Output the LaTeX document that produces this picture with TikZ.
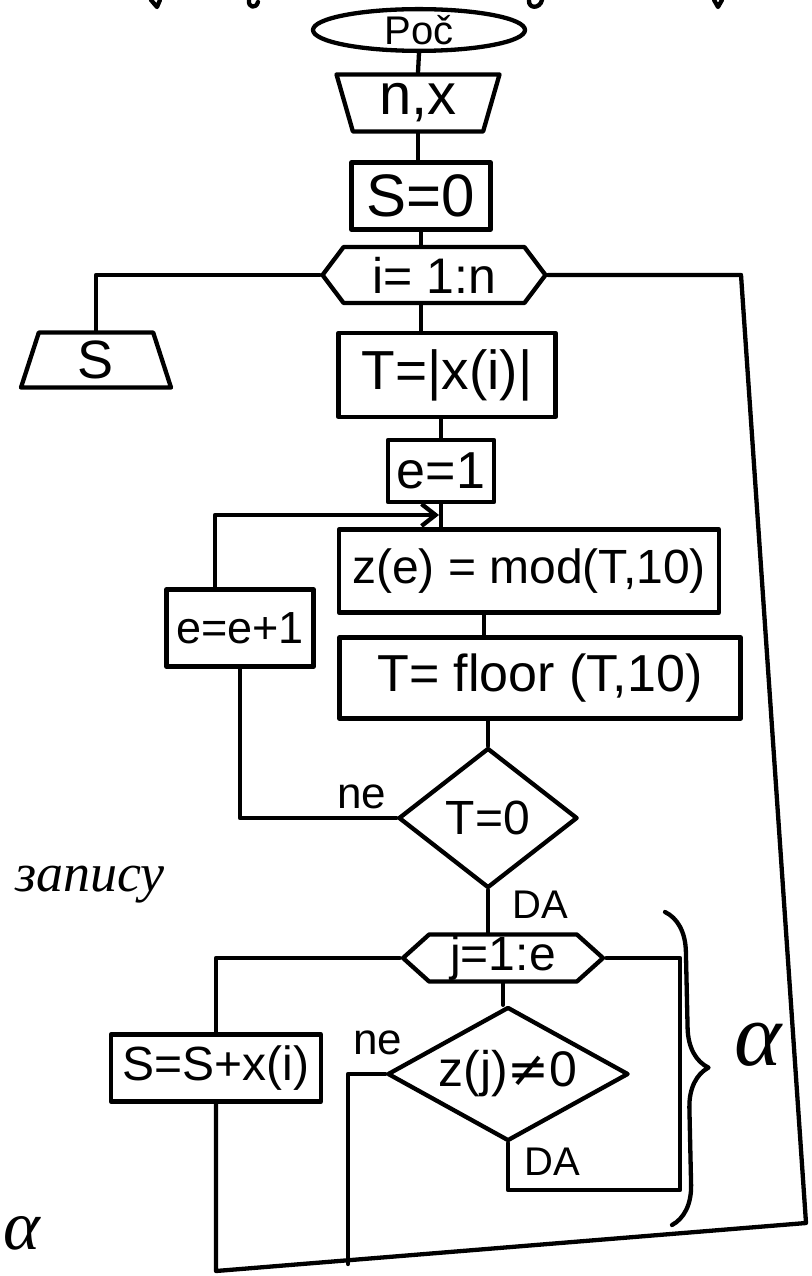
\documentclass[tikz,border=0pt]{standalone}
\usepackage{fontspec}
\setmainfont{Liberation Sans}
\newfontfamily\serifit{Liberation Serif}
\newfontfamily\dv{DejaVu Sans}
\usetikzlibrary{shapes.geometric,shapes.symbols,decorations.pathreplacing,arrows.meta}
\begin{document}
\begin{tikzpicture}[x=1pt,y=-1pt, line width=4.3pt, line join=round, line cap=round,
  fs/.style={font=\fontsize{#1}{#1}\selectfont},
  stepbox/.style={draw, rectangle, inner sep=0pt},
  loophex/.style={draw, signal, signal to=west and east, inner sep=0pt},
  decide/.style={draw, diamond, inner sep=0pt},
  io/.style={draw, trapezium, trapezium stretches body, inner sep=0pt},
  lbl/.style={inner sep=0pt}]
\useasboundingbox (0,0) rectangle (811,1276);

% nodes
\node[draw, ellipse, minimum width=212, minimum height=40, inner sep=0pt, fs=40] (start) at (419,30) {Poč};
\node[io, shape border rotate=180, trapezium left angle=67, trapezium right angle=67, minimum width=163, minimum height=57, fs=58] (nx) at (418,103) {n,x};
\node[stepbox, minimum width=139, minimum height=67, fs=60] (s0) at (421,196) {S=0};
\node[loophex, signal pointer angle=106, minimum width=223, minimum height=56, fs=50] (loop1) at (434,275) {i= 1:n};
\node[io, trapezium left angle=65, trapezium right angle=65, minimum width=150, minimum height=55, fs=54] (outS) at (96,360) {S};
\node[stepbox, minimum width=217, minimum height=84, fs=55] (tabs) at (447,375) {T=|x(i)|};
\node[stepbox, minimum width=106, minimum height=62, fs=52] (e1) at (441,471) {e=1};
\node[stepbox, minimum width=380, minimum height=83, fs=48] (zmod) at (529,571) {z(e) = mod(T,10)};
\node[stepbox, minimum width=401, minimum height=81, fs=52] (floor) at (540,678) {T= floor (T,10)};
\node[stepbox, minimum width=147, minimum height=77, fs=45] (einc) at (240,628) {e=e+1};
\node[decide, aspect=1.28, minimum width=179, minimum height=140, fs=48] (d1) at (488,818) {T=0};
\node[loophex, signal pointer angle=84, minimum width=200, minimum height=47, fs=48] (loop2) at (503,958) {j=1:e};
\node[decide, aspect=1.8, minimum width=241, minimum height=134, fs=50] (d2) at (508,1074) {z(j){\dv ≠}0};
\node[stepbox, minimum width=210, minimum height=67, fs=48] (ssx) at (216,1068) {S=S+x(i)};

% labels
\node[lbl, fs=44] (ne1) at (362,797) {ne};
\node[lbl, fs=40] (da1) at (540,905) {DA};
\node[lbl, fs=44] (ne2) at (378,1043) {ne};
\node[lbl, fs=40] (da2) at (552,1162) {DA};
\node[lbl, font=\serifit\itshape\fontsize{54}{54}\selectfont] (note) at (90,885) {запису};
\node[lbl, font=\serifit\itshape\fontsize{90}{90}\selectfont] (al1) at (758,1045) {α};
\node[lbl, font=\serifit\itshape\fontsize{70}{70}\selectfont] (al2) at (22,1233) {α};

% coordinates for free corners
\coordinate (ar) at (439,515);
\coordinate (neB) at (348,1264);
\coordinate (daR) at (680,1190);
\coordinate (bl) at (216,1271);
\coordinate (br) at (806,1223);
\coordinate (tr) at (741,275);

% connectors
\draw (start.south) -- (nx.north);
\draw (nx.south) -- (nx.south |- s0.north);
\draw (s0.south) -- (s0.south |- loop1.north);
\draw (s0.south |- loop1.south) -- (s0.south |- tabs.north);
\draw (e1.north |- tabs.south) -- (e1.north);
\draw (e1.south) -- (e1.south |- zmod.north);
\draw[-{Straight Barb[length=14pt,width=22pt]}] ([xshift=-25pt]einc.north) |- (ar);
\draw ([xshift=-45pt]zmod.south) -- ([xshift=-45pt]zmod.south |- floor.north);
\draw (d1.north |- floor.south) -- (d1.north);
\draw (d1.west) -| (einc.south);
\draw (d1.south) -- (d1.south |- loop2.north);
\draw (loop1.west) -| (outS.north);
\draw (loop2.west) -| (ssx.north);
\draw (loop2.south) -- (loop2.south |- d2.north);
\draw (d2.west) -| (neB);
\draw (d2.south) |- (daR) |- (loop2.east);
\draw (ssx.south) -- (bl) -- (br) -- (tr) -- (loop1.east);

% brace
\draw[decorate, decoration={brace, amplitude=40pt, aspect=0.5}] (665,912) -- (672,1225);

% cut-off strokes at the top edge
\draw (151,0) -- (157,7) -- (160,0);
\draw (249,0) .. controls (248,8) and (256,9) .. (258,2);
\draw (529,0) .. controls (528,9) and (540,9) .. (542,0);
\draw (714,0) -- (718,7) -- (722,0);
\end{tikzpicture}
\end{document}
